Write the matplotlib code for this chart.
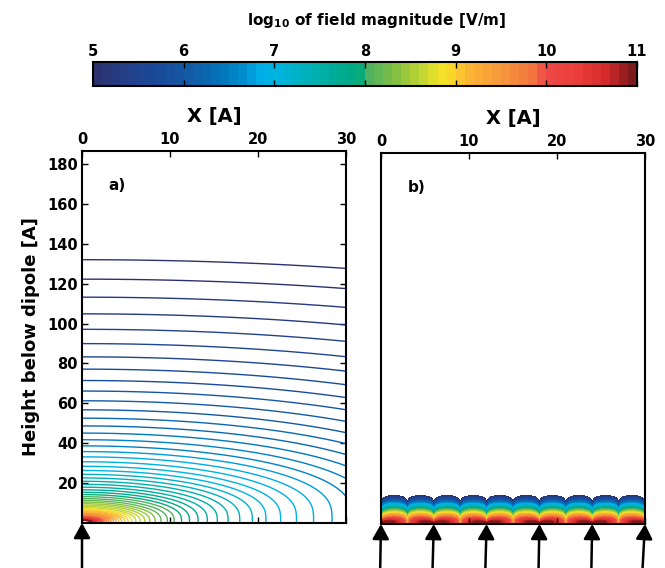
import numpy as np
import matplotlib
matplotlib.use('Agg')
import matplotlib.pyplot as plt
from matplotlib.colors import LinearSegmentedColormap, Normalize

# colour scale (log10 of |E| in V/m), printed-jet look of the original
cbar_ticks = [5, 6, 7, 8, 9, 10, 11]
cmap_pos = [0.0, 0.055, 0.12, 0.17, 0.24, 0.285, 0.30, 0.333, 0.375, 0.43,
            0.49, 0.50, 0.56, 0.61, 0.64, 0.665, 0.69, 0.75, 0.82, 0.835,
            0.90, 0.95, 1.0]
cmap_hex = ['#2b3270', '#233f8a', '#184c9b', '#135aa5', '#0078bd', '#0097d5',
            '#00aae6', '#00b4e2', '#00b2c5', '#00ad9f', '#00a97e', '#47b065',
            '#86c040', '#c5d733', '#f0e428', '#fcd22a', '#fbb735', '#f79a3a',
            '#f3703f', '#ef4a48', '#ea3d3b', '#d42a2b', '#7e1a1c']
n_levels = 60
levels = np.linspace(5, 11, n_levels + 1)

# panel a: single dipole at the origin
dipole_a_x = [0]
axis_height_a = 132.0   # height on the dipole axis where |E| = 1e5 V/m

# panel b: row of dipoles
dipole_b_x = [0, 6, 12, 18, 24, 30]
arrow_tilt_b = [-0.1, -0.15, -0.15, -0.1, -0.1, -0.3]
edge_height_b = 14.3    # height where the field above the row falls to 1e5 V/m

x_ticks = [0, 10, 20, 30]
y_ticks = [20, 40, 60, 80, 100, 120, 140, 160, 180]
x_lim = (0, 30)
y_lim = (0, 186.5)

plt.rcParams['font.family'] = ['DejaVu Sans']
plt.rcParams['font.weight'] = 'bold'
plt.rcParams['mathtext.fontset'] = 'custom'
plt.rcParams['mathtext.rm'] = 'DejaVu Sans:bold'
plt.rcParams['mathtext.it'] = 'DejaVu Sans:bold'
plt.rcParams['mathtext.bf'] = 'DejaVu Sans:bold'

cmap = LinearSegmentedColormap.from_list('printjet', list(zip(cmap_pos, cmap_hex)), N=n_levels)
norm = Normalize(vmin=5, vmax=11)

# ---- fields ----
# a) point dipole pointing up: |E| = p*sqrt(1+3cos^2)/r^3
xa = np.linspace(0, 30, 301)
ya = np.linspace(0, 187, 1871)
Xa, Ya = np.meshgrid(xa, ya)
p = 1e5 * axis_height_a ** 3 / 2.0
Ea = np.zeros_like(Xa)
for x0 in dipole_a_x:
    r = np.hypot(Xa - x0, Ya)
    with np.errstate(divide='ignore', invalid='ignore'):
        cos_t = Ya / r
        Ea = Ea + p * np.sqrt(1 + 3 * cos_t ** 2) / r ** 3
with np.errstate(divide='ignore'):
    La = np.log10(Ea)
La[~np.isfinite(La)] = np.nan

# b) periodic row of upright dipoles, horizontal field component
s = dipole_b_x[1] - dipole_b_x[0]
xb = np.linspace(0, 30, 1501)
yb = np.linspace(0, 22, 441)
Xb, Yb = np.meshgrid(xb, yb)


def ex_row(x, y):
    z = (x + 1j * y) * np.pi / s
    return np.abs(np.imag(1.0 / np.sin(z) ** 2))


with np.errstate(divide='ignore', invalid='ignore'):
    amp = 1e5 / ex_row(xb, np.full_like(xb, edge_height_b)).max()
    Lb = np.log10(amp * ex_row(Xb, Yb))
Lb[~np.isfinite(Lb)] = np.nan

# ---- figure ----
fig = plt.figure(figsize=(6.65, 5.68), dpi=100)

# colour bar drawn by hand so its ticks sit on top
cax = fig.add_axes([93 / 665, 1 - 85.5 / 568, 544 / 665, 24 / 568])
mids = 0.5 * (levels[:-1] + levels[1:])
cax.pcolormesh(levels, [0, 1], mids[None, :], cmap=cmap, norm=norm)
cax.set_xlim(5, 11)
cax.set_ylim(0, 1)
cax.set_yticks([])
cax.set_xticks(cbar_ticks)
cax.tick_params(axis='x', direction='in', top=True, bottom=True, labeltop=True,
                labelbottom=False, length=4, width=1, labelsize=10.5, pad=2)
for sp in cax.spines.values():
    sp.set_linewidth(1.5)
fig.text(377 / 665, 1 - 21 / 568, r'log$_{10}$ of field magnitude [V/m]',
         ha='center', va='center', fontsize=11, fontweight='bold')

ax_a = fig.add_axes([82 / 665, 1 - 523 / 568, 264 / 665, 372 / 568])
ax_b = fig.add_axes([381 / 665, 1 - 524 / 568, 264 / 665, 371 / 568])

ax_a.contour(Xa, Ya, La, levels=levels, cmap=cmap, norm=norm, linewidths=1.0)
ax_b.contourf(Xb, Yb, Lb, levels=levels, cmap=cmap, norm=norm, extend='max')

for ax, lab in [(ax_a, 'a)'), (ax_b, 'b)')]:
    ax.set_xlim(*x_lim)
    ax.set_ylim(*y_lim)
    ax.set_xticks(x_ticks)
    ax.set_yticks(y_ticks)
    ax.xaxis.set_label_position('top')
    ax.set_xlabel('X [A]', fontsize=14, fontweight='bold', labelpad=7)
    ax.tick_params(axis='x', direction='in', top=True, bottom=True, labeltop=True,
                   labelbottom=False, length=4, width=1, labelsize=10.5, pad=3)
    for sp in ax.spines.values():
        sp.set_linewidth(1.5)
    ax.text(3, 169, lab, fontsize=11, fontweight='bold', ha='left', va='center')

ax_a.tick_params(axis='y', direction='in', left=True, right=True, length=4, width=1,
                 labelsize=10.5, pad=3)
ax_a.set_ylabel('Height below dipole [A]', fontsize=13, fontweight='bold', labelpad=5)
ax_b.tick_params(axis='y', left=False, right=False, labelleft=False)

arrow_style = dict(arrowstyle='-|>,head_length=0.9,head_width=0.5', lw=1.8,
                   color='k', shrinkA=0, shrinkB=0, mutation_scale=10)
for x0 in dipole_a_x:
    ax_a.annotate('', xy=(x0, 0), xytext=(x0, -24), arrowprops=arrow_style,
                  annotation_clip=False)
for x0, dx in zip(dipole_b_x, arrow_tilt_b):
    ax_b.annotate('', xy=(x0, 0), xytext=(x0 + dx, -24), arrowprops=arrow_style,
                  annotation_clip=False)

fig.savefig('out.png', dpi=100)
